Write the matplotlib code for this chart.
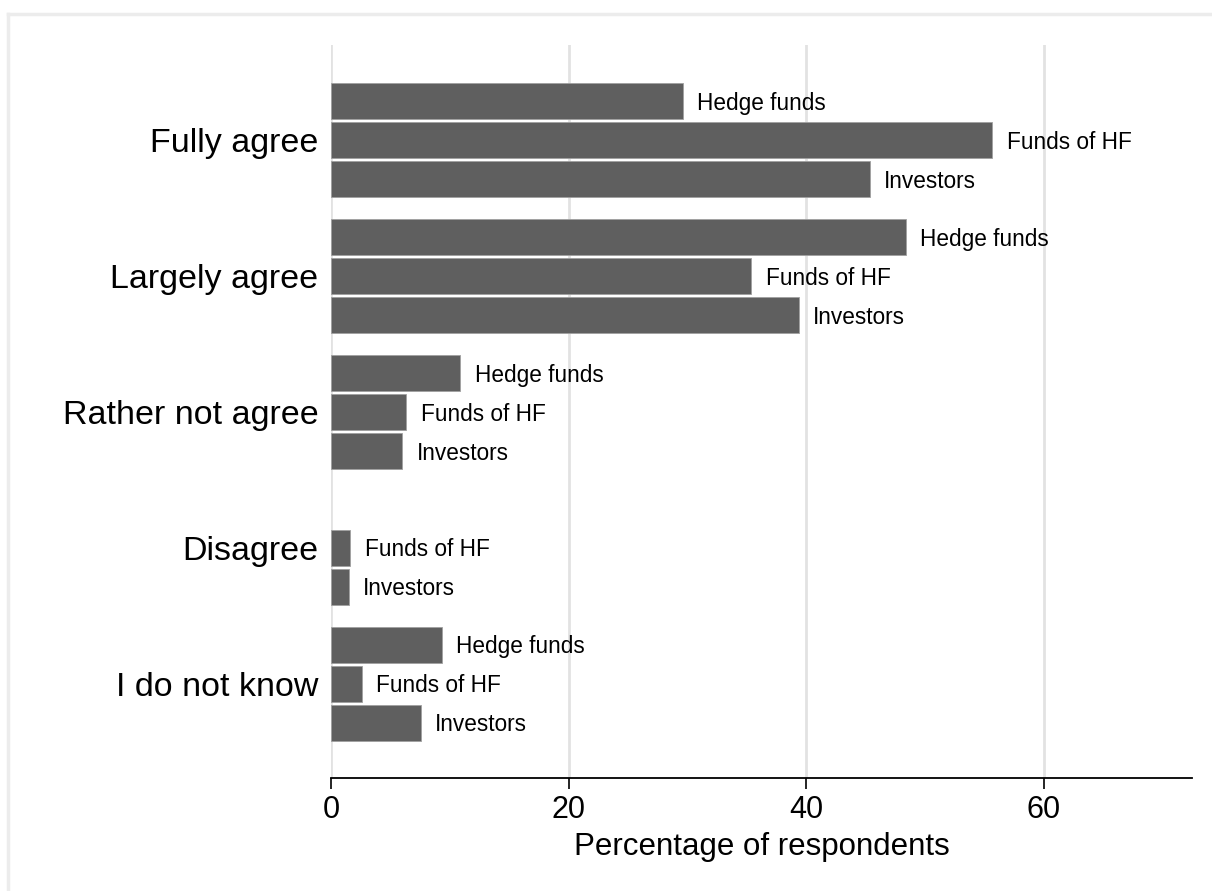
import numpy as np
import matplotlib
matplotlib.use("Agg")
from matplotlib import pyplot as plt
from matplotlib.lines import Line2D

categories = ["Fully agree", "Largely agree", "Rather not agree", "Disagree", "I do not know"]
series = ["Hedge funds", "Funds of HF", "Investors"]
hedge_funds = [29.6, 48.4, 10.9, 0.0, 9.35]
funds_of_hf = [55.7, 35.4, 6.35, 1.63, 2.6]
investors = [45.35, 39.4, 6.0, 1.5, 7.55]
values = [hedge_funds, funds_of_hf, investors]
xticks = [0, 20, 40, 60]

plt.rcParams['font.family'] = ['Liberation Sans', 'DejaVu Sans']

fig = plt.figure(figsize=(12.12, 8.91), dpi=100)
ax = fig.add_axes([331/1212, 1 - 778/891, (1192 - 331)/1212, (778 - 45)/891])

group_gap = 3.485
bar_h = 0.92
for j, name in enumerate(series):
	for i, cat in enumerate(categories):
		v = values[j][i]
		y = i * group_gap + (j - 1)
		if v <= 0:
			continue
		ax.barh(y, v, height=bar_h, color='#5f5f5f', edgecolor='#a0a0a0', linewidth=0.6, zorder=3)
		ax.text(v + 1.2, y + 0.05, name, va='center', ha='left', fontsize=16.3, color='black')

ax.set_yticks([i * group_gap for i in range(len(categories))])
ax.set_yticklabels(categories, fontsize=24.5)
ax.tick_params(axis='y', length=0, pad=9)
ax.set_ylim(4 * group_gap + 2.415, -2.444)

ax.set_xlim(0, 72.5)
ax.set_xticks(xticks)
ax.set_xticklabels([str(t) for t in xticks], fontsize=22)
ax.tick_params(axis='x', length=8, width=1.2, direction='out', pad=4)
ax.set_xlabel("Percentage of respondents", fontsize=22.5, labelpad=5)

ax.grid(axis='x', color='#e2e2e2', linewidth=2, zorder=0)
ax.set_axisbelow(True)
for s in ['top', 'right', 'left']:
	ax.spines[s].set_visible(False)
ax.spines['bottom'].set_linewidth(1.3)

# light outer frame of the graph region
fig.add_artist(Line2D([8/1212, 1], [1 - 14/891, 1 - 14/891], transform=fig.transFigure, color='#ececec', linewidth=2.5))
fig.add_artist(Line2D([8/1212, 8/1212], [0, 1 - 14/891], transform=fig.transFigure, color='#ececec', linewidth=2.5))

fig.savefig("out.png", dpi=100)
